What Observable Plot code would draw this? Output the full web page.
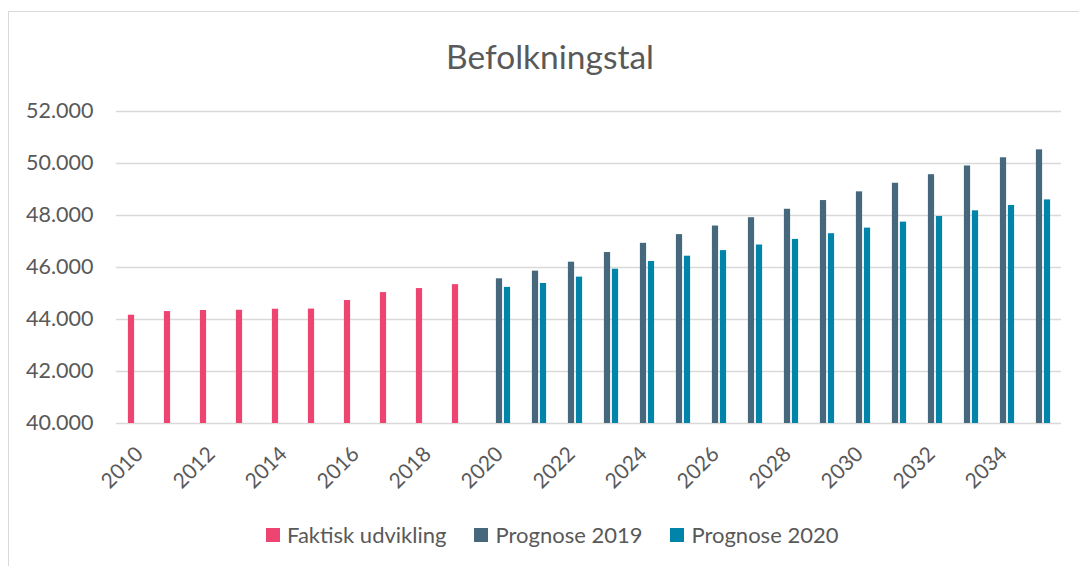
<!DOCTYPE html>
<html>
<head>
<meta charset="utf-8">
<script src="https://cdn.jsdelivr.net/npm/d3@7"></script>
<script src="https://cdn.jsdelivr.net/npm/@observablehq/plot@0.6"></script>
<style>
  html, body { margin: 0; padding: 0; background: #fff; width: 1079px; height: 566px; overflow: hidden; }
  body { position: relative; font-family: Lato, "Open Sans", sans-serif; color: #595959; }
  #frame { position: absolute; left: 8px; top: 11px; width: 1120px; height: 620px; border: 1px solid #d9d9d9; box-sizing: border-box; }
  #title { position: absolute; left: 0; top: 35px; width: 1100px; text-align: center; font-size: 33.5px; line-height: 42px; color: #595959; }
  #chart { position: absolute; left: 0; top: 89px; }
  #legend { position: absolute; left: 266px; top: 522px; display: flex; align-items: center; font-size: 22px; line-height: 26px; color: #595959; white-space: nowrap; }
  #legend .item { display: flex; align-items: center; margin-right: 28px; }
  #legend .sw { width: 14px; height: 14px; margin-right: 7px; display: inline-block; }
</style>
</head>
<body>
<div id="frame"></div>
<div id="title">Befolkningstal</div>
<div id="chart"></div>
<div id="legend"></div>
<script>
// Categories (all years on the axis)
const years = [2010, 2011, 2012, 2013, 2014, 2015, 2016, 2017, 2018, 2019,
               2020, 2021, 2022, 2023, 2024, 2025, 2026, 2027, 2028, 2029,
               2030, 2031, 2032, 2033, 2034, 2035];
// Tick labels shown on the x axis
const xTickYears = [2010, 2012, 2014, 2016, 2018, 2020, 2022, 2024, 2026, 2028, 2030, 2032, 2034];
// y tick values
const yTicks = [40000, 42000, 44000, 46000, 48000, 50000, 52000];

// Series: Faktisk udvikling
const faktiskYears = [2010, 2011, 2012, 2013, 2014, 2015, 2016, 2017, 2018, 2019];
const faktisk = [44165, 44305, 44345, 44355, 44395, 44400, 44730, 45035, 45190, 45340];

// Series: Prognose 2019 and Prognose 2020
const prognoseYears = [2020, 2021, 2022, 2023, 2024, 2025, 2026, 2027, 2028, 2029, 2030, 2031, 2032, 2033, 2034, 2035];
const prognose2019 = [45565, 45860, 46205, 46575, 46930, 47265, 47595, 47915, 48240, 48575, 48910, 49240, 49570, 49905, 50220, 50525];
const prognose2020 = [45235, 45385, 45630, 45935, 46230, 46435, 46650, 46865, 47080, 47300, 47515, 47745, 47960, 48180, 48385, 48600];

const seriesNames = ["Faktisk udvikling", "Prognose 2019", "Prognose 2020"];
const seriesColors = ["#ee4472", "#46687d", "#0084a9"];

const rows = (xs, vs) => xs.map((year, i) => ({year, value: vs[i]}));

const bandInset = 14.9;
const fmt = d => d3.format(",")(d).replace(/,/g, ".");

const chart = Plot.plot({
  width: 1079,
  height: 412,
  marginLeft: 116,
  marginRight: 18,
  marginTop: 22,
  marginBottom: 78,
  style: { fontFamily: "Lato, 'Open Sans', sans-serif", fontSize: "21px", color: "#595959", background: "transparent", overflow: "visible" },
  x: { type: "band", domain: years, padding: 0 },
  y: { domain: [40000, 52000] },
  marks: [
    Plot.gridY(yTicks, { stroke: "#d9d9d9", strokeOpacity: 1, strokeWidth: 1.3 }),
    Plot.axisY(yTicks, { tickSize: 0, tickPadding: 23, tickFormat: fmt, label: null, fontSize: 21.5, fill: "#595959" }),
    Plot.axisX(xTickYears, { tickRotate: -45, tickSize: 0, tickPadding: 27, tickFormat: d => String(d), label: null, fontSize: 21, fill: "#595959" }),
    Plot.barY(rows(faktiskYears, faktisk), { x: "year", y1: 40000, y2: "value", fill: seriesColors[0], dx: -8, insetLeft: bandInset, insetRight: bandInset }),
    Plot.barY(rows(prognoseYears, prognose2019), { x: "year", y1: 40000, y2: "value", fill: seriesColors[1], dx: 0, insetLeft: bandInset, insetRight: bandInset }),
    Plot.barY(rows(prognoseYears, prognose2020), { x: "year", y1: 40000, y2: "value", fill: seriesColors[2], dx: 8, insetLeft: bandInset, insetRight: bandInset })
  ]
});
document.getElementById("chart").appendChild(chart);

const legend = document.getElementById("legend");
seriesNames.forEach((name, i) => {
  const item = document.createElement("div");
  item.className = "item";
  const sw = document.createElement("span");
  sw.className = "sw";
  sw.style.background = seriesColors[i];
  const label = document.createElement("span");
  label.textContent = name;
  item.appendChild(sw);
  item.appendChild(label);
  legend.appendChild(item);
});
</script>
</body>
</html>
